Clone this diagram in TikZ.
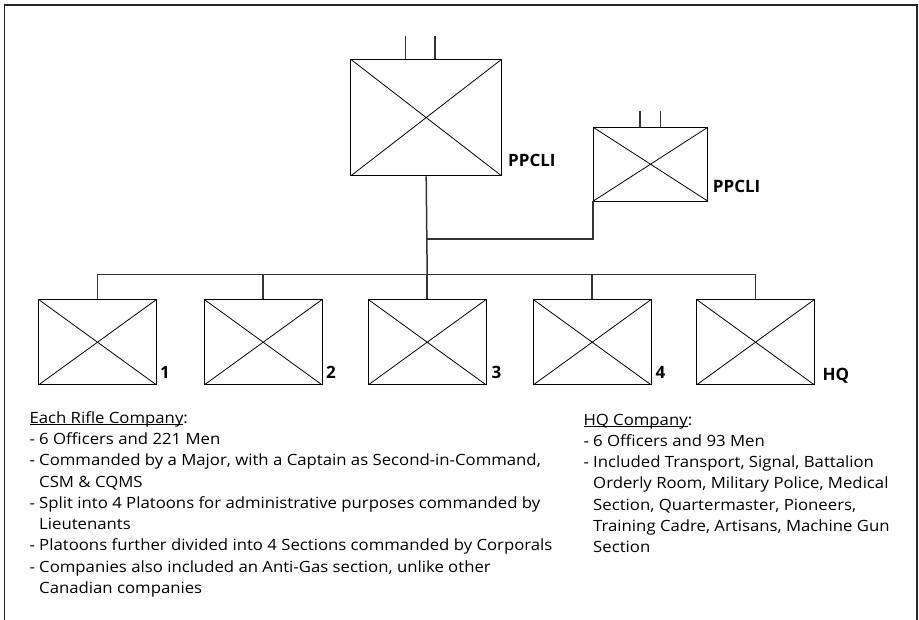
\documentclass[tikz,border=0pt]{standalone}
\usepackage{fontspec}
\setmainfont{Open Sans}
\newfontfamily\notefont[FakeStretch=1.08]{Open Sans}
\newcommand{\myul}[1]{\setbox0\hbox{#1}\rlap{\rule[-1.3pt]{\wd0}{0.8pt}}\box0}
\begin{document}
\begin{tikzpicture}[x=1pt,y=-1pt,
  unitbox/.style={draw=black,line width=0.9pt,inner sep=0pt,
    path picture={\draw[line width=0.8pt] (path picture bounding box.north west) -- (path picture bounding box.south east)
      (path picture bounding box.north east) -- (path picture bounding box.south west);}},
  coy/.style={unitbox,minimum width=118pt,minimum height=85.5pt},
  link/.style={draw=black!80,line width=1.5pt},
  tick/.style={draw=black!80,line width=1.3pt},
  lbl/.style={anchor=base west,inner sep=0pt,font=\fontsize{17}{20}\selectfont\bfseries},
  txt/.style={anchor=base west,inner sep=0pt,font=\notefont\fontsize{15.5}{20}\selectfont}]
\useasboundingbox (0,0) rectangle (919,620);
\begin{scope}
\clip (0,0) rectangle (919,620);
\draw[draw=black!85,line width=1.5pt] (4.5,5) rectangle (917,640);
\end{scope}

% battalion
\node[unitbox,minimum width=151pt,minimum height=116.7pt] (bn) at (426.2,117.6) {};
\coordinate (bt1) at (405.7,36);
\coordinate (bt2) at (435,36);
\draw[tick] (bt1) -- (bt1 |- bn.north) (bt2) -- (bt2 |- bn.north);
\node[lbl] (bnl) at (508,166.7) {PPCLI};

% second unit
\node[unitbox,minimum width=114.4pt,minimum height=73.7pt] (sm) at (650.5,164.2) {};
\coordinate (st1) at (640,110.7);
\coordinate (st2) at (660.7,110.7);
\draw[tick] (st1) -- (st1 |- sm.north) (st2) -- (st2 |- sm.north);
\node[lbl] (sml) at (712.7,192.3) {PPCLI};

% companies
\node[coy] (c1) at (97.5,342.2) {};
\node[coy] (c2) at (263.2,342.2) {};
\node[coy] (c3) at (427.2,342.2) {};
\node[coy] (c4) at (592.2,342.2) {};
\node[coy] (hq) at (755.5,342.2) {};
\node[lbl] (l1) at (160,378.3) {1};
\node[lbl] (l2) at (326,378.3) {2};
\node[lbl] (l3) at (491.3,378.3) {3};
\node[lbl] (l4) at (655.5,378.3) {4};
\node[lbl] (lhq) at (822.3,380.7) {HQ};

% connectors
\coordinate (bus) at (427.2,274.7);
\coordinate (tee) at (427.2,239);
\draw[link] (bn.south) -- (bus);
\draw[link] (tee) -| (sm.south west);
\draw[link] (c1.north) |- (bus) -| (hq.north);
\draw[link] (c2.north) -- (c2.north |- bus);
\draw[link] (c3.north) -- (bus);
\draw[link] (c4.north) -- (c4.north |- bus);

% left notes
\node[txt] (t1) at (29.3,423.3) {\myul{Each Rifle Company}:};
\node[txt] (t2) at (29.3,444.6) {- 6 Officers and 221 Men};
\node[txt] (t3) at (29.3,465.8) {- Commanded by a Major, with a Captain as Second-in-Command,};
\node[txt] (t4) at (29.3,487.1) {\phantom{- }CSM \& CQMS};
\node[txt] (t5) at (29.3,508.3) {- Split into 4 Platoons for administrative purposes commanded by};
\node[txt] (t6) at (29.3,529.6) {\phantom{- }Lieutenants};
\node[txt] (t7) at (29.3,550.8) {- Platoons further divided into 4 Sections commanded by Corporals};
\node[txt] (t8) at (29.3,572.1) {- Companies also included an Anti-Gas section, unlike other};
\node[txt] (t9) at (29.3,593.3) {\phantom{- }Canadian companies};

% right notes
\node[txt] (r1) at (583.3,425) {\myul{HQ Company}:};
\node[txt] (r2) at (583.3,446.3) {- 6 Officers and 93 Men};
\node[txt] (r3) at (583.3,467.5) {- Included Transport, Signal, Battalion};
\node[txt] (r4) at (583.3,488.8) {\phantom{- }Orderly Room, Military Police, Medical};
\node[txt] (r5) at (583.3,510) {\phantom{- }Section, Quartermaster, Pioneers,};
\node[txt] (r6) at (583.3,531.3) {\phantom{- }Training Cadre, Artisans, Machine Gun};
\node[txt] (r7) at (583.3,552.5) {\phantom{- }Section};
\end{tikzpicture}
\end{document}
